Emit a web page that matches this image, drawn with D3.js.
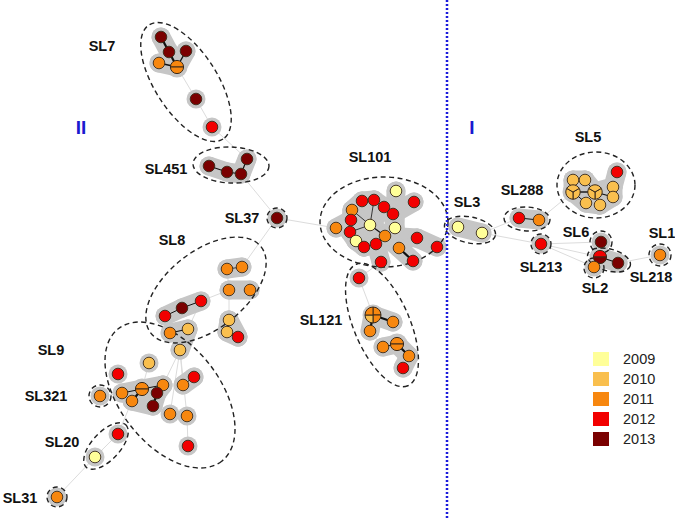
<!DOCTYPE html>
<html>
<head>
<meta charset="utf-8">
<script src="https://cdn.jsdelivr.net/npm/d3@7"></script>
<style>
body { margin: 0; background: #fff; }
text { font-family: "Liberation Sans", Arial, sans-serif; }
</style>
</head>
<body>
<div id="chart"></div>
<script>
// years and their colours
var years = [2009, 2010, 2011, 2012, 2013];
var yearColors = ["#FFFF99", "#F9BF4E", "#F7870F", "#F20000", "#7A0000"];

// nodes: id, x, y, year index (layout coordinates)
var nodes = [
  ["a1",161,37,4],["a2",169,52,4],["a3",186,51,4],["a4",159,63,2],["a5",177,67,2],["a6",196,99,4],["a7",212,127,3],
  ["b1",209,166,4],["b2",227,172,4],["b3",241,174,4],["b4",247,159,4],
  ["c1",277,218,4],
  ["d1",396,191,0],["d2",414,202,3],["d3",362,201,3],["d4",374,200,3],["d5",384,207,3],["d6",393,214,3],
  ["d7",352,210,2],["d8",351,220,3],["d9",336,228,2],["d10",370,225,0],["d11",395,228,0],["d12",350,232,3],
  ["d13",356,241,0],["d14",385,236,2],["d15",376,244,3],["d16",364,247,3],["d17",417,238,3],["d18",437,247,3],
  ["d19",399,248,2],["d20",413,261,3],["d21",381,262,3],
  ["e1",359,278,3],["e2",373,315,2],["e3",393,322,2],["e4",370,331,2],["e5",383,347,2],["e6",397,344,2],
  ["e7",409,356,2],["e8",403,368,3],
  ["f1",227,269,2],["f2",242,267,2],["f3",229,290,2],["f4",250,290,2],["f5",165,316,3],["f6",182,308,4],
  ["f7",201,301,3],["f8",229,320,1],["f9",227,332,1],["f10",238,337,3],
  ["g1",170,333,2],["g2",188,329,1],["g3",180,350,1],["g4",149,363,1],["g5",118,374,3],["g6",163,385,2],
  ["g7",194,377,3],["g8",122,393,2],["g9",142,389,2],["g10",132,401,2],["g11",157,393,4],["g12",153,406,4],
  ["g13",170,414,2],["g14",187,416,2],["g15",188,446,3],["g16",183,385,2],
  ["h1",100,396,2],
  ["i1",118,434,3],["i2",95,457,0],
  ["j1",57,497,2],
  ["k1",458,227,0],["k2",482,233,0],
  ["l1",519,218,3],["l2",539,220,2],
  ["m1",617,172,3],["m2",573,180,1],["m3",585,180,1],["m4",573,192,1],["m5",595,192,1],["m6",613,187,1],
  ["m7",613,197,1],["m8",586,203,1],["m9",600,205,1],
  ["n1",541,244,3],["o1",601,242,4],["p1",600,257,3],["p2",618,263,4],["q1",594,267,2],["r1",660,255,2]
];

// nodes drawn as pies: id, slice year indices, split style
var pies = [
  ["a5",[2,2],"h"],["g9",[2,2],"h"],["e6",[2,2],"h"],["p1",[3,4],"h"],
  ["e2",[2,2,1,2],"x"],["m4",[1,1,1],"y"],["m5",[1,1,1],"y"]
];

// grey bands joining nodes of the same group
var bandLinks = [
  ["a1","a2"],["a2","a5"],["a3","a5"],["a4","a5"],
  ["b1","b2"],["b2","b3"],["b3","b4"],
  ["d3","d4"],["d4","d5"],["d5","d6"],["d3","d7"],["d7","d8"],["d8","d9"],["d8","d12"],["d12","d13"],
  ["d13","d16"],["d16","d15"],["d15","d21"],["d10","d8"],["d10","d4"],["d10","d14"],["d14","d15"],
  ["d14","d11"],["d11","d1"],["d11","d6"],["d6","d2"],["d14","d19"],["d19","d20"],["d14","d17"],["d17","d18"],
  ["d10","d12"],["d10","d16"],["d5","d10"],
  ["e2","e3"],["e2","e4"],["e5","e6"],["e6","e7"],["e7","e8"],
  ["f1","f2"],["f3","f4"],["f5","f6"],["f6","f7"],["f8","f9"],["f9","f10"],["f8","f10"],
  ["g1","g2"],["g2","g3"],["g8","g9"],["g9","g10"],["g9","g6"],["g6","g11"],["g11","g12"],["g10","g12"],["g16","g7"],
  ["k1","k2"],["l1","l2"],
  ["m2","m3"],["m2","m4"],["m3","m5"],["m4","m5"],["m5","m6"],["m6","m7"],["m5","m9"],["m4","m8"],["m8","m9"],["m7","m9"],["m6","m1"],
  ["p1","p2"]
];

// thin grey links of the spanning tree
var treeLinks = [
  ["a5","a6"],["a6","a7"],["a7","b4"],["b3","c1"],["c1","d9"],["c1","f2"],["d18","k1"],
  ["d21","e1"],["e1","e2"],["e4","e5"],
  ["f1","f3"],["f3","f7"],["f3","f8"],["f5","g1"],["g2","f7"],["g3","g6"],["g3","g13"],["g3","g14"],
  ["g3","g16"],["g4","g9"],["g5","g8"],["g14","g15"],["g8","h1"],["g10","i1"],["i1","i2"],["i2","j1"],
  ["k2","l1"],["l2","m4"],["k2","n1"],["n1","o1"],["n1","p1"],["n1","q1"],["p2","r1"]
];

// black links inside groups: id, id, width
var blackLinks = [
  ["a1","a2",2.2],["a2","a5",2.2],["a3","a5",1.4],["a4","a5",1.4],
  ["b1","b2",1.2],["b2","b3",1.2],["b3","b4",1.2],
  ["d10","d14",1.2],["d14","d15",1.2],["d10","d7",0.8],["d19","d20",2.2],["d10","d4",0.8],["d10","d12",0.8],
  ["e2","e3",2.2],["e2","e4",2.2],["e5","e6",1],["e6","e7",2.2],
  ["f5","f6",1],["f6","f7",1],["f8","f9",2.2],["f9","f10",1.4],["f1","f2",0.8],
  ["g1","g2",1.2],["g8","g9",1],["g9","g10",2.2],["g9","g6",1],["g6","g11",2.4],["g11","g12",2.4],["g16","g7",1],
  ["l1","l2",1],["m2","m4",1.2],["m4","m5",1.4],["m5","m7",1.2],["m3","m5",1],["m4","m8",1],["p1","p2",1.2]
];

// cluster names, the dashed outline drawn round them and the label spot
var clusterNames = ["SL7","SL451","SL37","SL101","SL121","SL8","SL9","SL321","SL20","SL31",
                    "SL3","SL288","SL5","SL213","SL6","SL218","SL2","SL1"];
var clusterOutlines = [
  [186,82,68,31,57],[231,165,38,18,2],[277,218,10,10,0],[384,222,64,45,0],[382,325,66,28,67],
  [206,290,70,39,-38],[170,395,84,50,52],[100,396,11,11,0],[106,446,29,14,-47],[57,497,10,10,0],
  [470,230,26,13,12],[527,219,23,12,3],[596,185,39,33,0],[541,244,10,10,0],[601,242,11,11,0],
  [609,260,22,11,15],[594,268,10,10,0],[660,255,11,11,0]
];
var clusterLabels = [
  [102,46],[166,169],[242,218],[370,157],[321,320],[172,240],[51,350],[46,396],[62,442],[20,498],
  [467,202],[522,190],[588,137],[541,267],[576,232],[651,277],[595,288],[662,233]
];

var svgWidth = 675, svgHeight = 519;
var x = d3.scaleLinear().domain([0, 675]).range([0, svgWidth]);
var y = d3.scaleLinear().domain([0, 519]).range([0, svgHeight]);
var color = d3.scaleOrdinal().domain(d3.range(years.length)).range(yearColors);

var svg = d3.select("#chart").append("svg").attr("width", svgWidth).attr("height", svgHeight);

var byId = {};
nodes.forEach(function(n) { byId[n[0]] = n; });
var pieById = {};
pies.forEach(function(p) { pieById[p[0]] = p; });

function seg(g, list, stroke, width) {
  g.selectAll("line").data(list).enter().append("line")
    .attr("x1", function(d) { return x(byId[d[0]][1]); })
    .attr("y1", function(d) { return y(byId[d[0]][2]); })
    .attr("x2", function(d) { return x(byId[d[1]][1]); })
    .attr("y2", function(d) { return y(byId[d[1]][2]); })
    .attr("stroke", stroke)
    .attr("stroke-width", width)
    .attr("stroke-linecap", "round");
}

// thin tree links
seg(svg.append("g"), treeLinks, "#dcdcdc", 1);

// grey halos
var halo = svg.append("g");
seg(halo, bandLinks, "#c6c6c6", 19);
halo.selectAll("circle").data(nodes).enter().append("circle")
  .attr("cx", function(d) { return x(d[1]); })
  .attr("cy", function(d) { return y(d[2]); })
  .attr("r", function(d) { return pieById[d[0]] ? 10.5 : 9.5; })
  .attr("fill", "#c6c6c6");

// dashed cluster outlines
svg.append("g").selectAll("ellipse").data(clusterOutlines).enter().append("ellipse")
  .attr("transform", function(d) { return "translate(" + x(d[0]) + "," + y(d[1]) + ") rotate(" + d[4] + ")"; })
  .attr("rx", function(d) { return d[2]; })
  .attr("ry", function(d) { return d[3]; })
  .attr("fill", "none")
  .attr("stroke", "#222")
  .attr("stroke-width", 1.4)
  .attr("stroke-dasharray", "5,3.5");

// black links
var bl = svg.append("g");
bl.selectAll("line").data(blackLinks).enter().append("line")
  .attr("x1", function(d) { return x(byId[d[0]][1]); })
  .attr("y1", function(d) { return y(byId[d[0]][2]); })
  .attr("x2", function(d) { return x(byId[d[1]][1]); })
  .attr("y2", function(d) { return y(byId[d[1]][2]); })
  .attr("stroke", "#111")
  .attr("stroke-width", function(d) { return d[2]; });

// nodes
var startAngles = { h: -Math.PI / 2, x: 0, y: Math.PI / 3 };
var pieRadius = { h: 6.6, x: 8, y: 7.2 };
var ng = svg.append("g");
nodes.forEach(function(n) {
  var p = pieById[n[0]];
  var g = ng.append("g").attr("transform", "translate(" + x(n[1]) + "," + y(n[2]) + ")");
  if (!p) {
    g.append("circle").attr("r", 5.8).attr("fill", color(n[3])).attr("stroke", "#3a2a1a").attr("stroke-width", 0.9);
  } else {
    var sa = startAngles[p[2]];
    var arcs = d3.pie().value(1).sort(null).startAngle(sa).endAngle(sa + 2 * Math.PI)(p[1]);
    g.selectAll("path").data(arcs).enter().append("path")
      .attr("d", d3.arc().innerRadius(0).outerRadius(pieRadius[p[2]]))
      .attr("fill", function(d) { return color(d.data); })
      .attr("stroke", "#3a2a1a")
      .attr("stroke-width", 1);
  }
});

// cluster labels
svg.append("g").selectAll("text").data(clusterNames).enter().append("text")
  .attr("x", function(d, i) { return x(clusterLabels[i][0]); })
  .attr("y", function(d, i) { return y(clusterLabels[i][1]); })
  .attr("text-anchor", "middle")
  .attr("dy", ".35em")
  .attr("font-weight", 700)
  .attr("font-size", "14.5px")
  .attr("fill", "#111")
  .text(function(d) { return d; });

// divider between lineages
svg.append("line")
  .attr("x1", x(447)).attr("x2", x(447))
  .attr("y1", 0).attr("y2", svgHeight)
  .attr("stroke", "#1a1adc")
  .attr("stroke-width", 2.5)
  .attr("stroke-dasharray", "2,2");

var lineages = ["II", "I"];
var lineagePos = [[81, 127], [472, 127]];
svg.selectAll(".lin").data(lineages).enter().append("text")
  .attr("class", "lin")
  .attr("x", function(d, i) { return x(lineagePos[i][0]); })
  .attr("y", function(d, i) { return y(lineagePos[i][1]); })
  .attr("text-anchor", "middle")
  .attr("dy", ".35em")
  .attr("font-weight", 700)
  .attr("font-size", "19px")
  .attr("fill", "#1a1ad0")
  .text(function(d) { return d; });

// legend
var leg = svg.append("g").selectAll("g").data(years).enter().append("g")
  .attr("transform", function(d, i) { return "translate(593," + (352 + i * 20) + ")"; });
leg.append("rect").attr("width", 16).attr("height", 14)
  .attr("fill", function(d, i) { return yearColors[i]; });
leg.append("text").attr("x", 30).attr("y", 7).attr("dy", ".35em")
  .attr("font-size", "14.5px").attr("fill", "#222")
  .text(function(d) { return d; });
</script>
</body>
</html>
